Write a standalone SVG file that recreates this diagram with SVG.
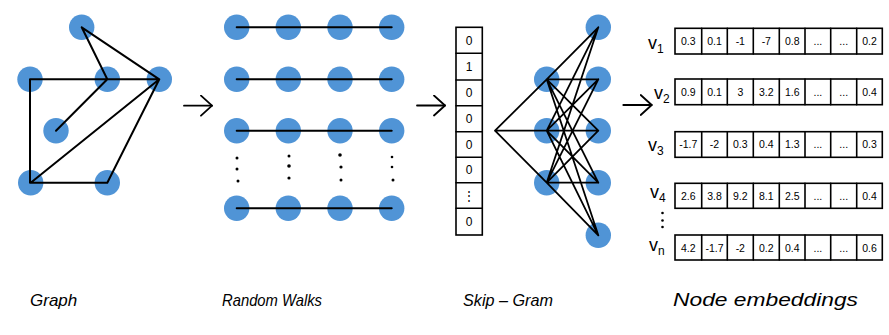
<svg xmlns="http://www.w3.org/2000/svg" width="889" height="335" viewBox="0 0 889 335">
<style>
.n{fill:#5094d6}
.e{stroke:#000;stroke-width:2;fill:none;stroke-linecap:round;stroke-linejoin:round}
.b{fill:#fff;stroke:#000;stroke-width:1.6}
.c{font-family:"Liberation Sans",Arial,sans-serif;font-size:10.5px;text-anchor:middle;fill:#000}
.v{font-family:"Liberation Sans",Arial,sans-serif;font-size:18px;fill:#000}
.lab{font-family:"Liberation Sans",Arial,sans-serif;font-style:italic;font-size:17px;fill:#000}
.d{fill:#000}
</style>
<defs>
<marker id="ah" markerWidth="14" markerHeight="22" refX="12" refY="11" orient="auto" markerUnits="userSpaceOnUse">
<path d="M1,1 L12,11 L1,21" fill="none" stroke="#000" stroke-width="1.8" stroke-linecap="round" stroke-linejoin="round"/>
</marker>
</defs>
<rect width="889" height="335" fill="#fff"/>

<!-- Graph -->
<g id="graph-nodes">
<circle class="n" cx="81.7" cy="27.3" r="12.7"/>
<circle class="n" cx="30" cy="79.3" r="12.7"/>
<circle class="n" cx="107.3" cy="79.3" r="12.7"/>
<circle class="n" cx="159.3" cy="79.3" r="12.7"/>
<circle class="n" cx="56" cy="130.7" r="12.7"/>
<circle class="n" cx="30.7" cy="182.7" r="12.7"/>
<circle class="n" cx="107.3" cy="182.7" r="12.7"/>
</g>

<!-- Random walks -->
<g id="walk-nodes">
<circle class="n" cx="236.7" cy="27.3" r="12.7"/><circle class="n" cx="288.3" cy="27.3" r="12.7"/><circle class="n" cx="340" cy="27.3" r="12.7"/><circle class="n" cx="391.7" cy="27.3" r="12.7"/>
<circle class="n" cx="236.7" cy="79.3" r="12.7"/><circle class="n" cx="288.3" cy="79.3" r="12.7"/><circle class="n" cx="340" cy="79.3" r="12.7"/><circle class="n" cx="391.7" cy="79.3" r="12.7"/>
<circle class="n" cx="236.7" cy="130.7" r="12.7"/><circle class="n" cx="288.3" cy="130.7" r="12.7"/><circle class="n" cx="340" cy="130.7" r="12.7"/><circle class="n" cx="391.7" cy="130.7" r="12.7"/>
<circle class="n" cx="236.7" cy="208.3" r="12.7"/><circle class="n" cx="288.3" cy="208.3" r="12.7"/><circle class="n" cx="340" cy="208.3" r="12.7"/><circle class="n" cx="391.7" cy="208.3" r="12.7"/>
</g>
<g id="walk-dots">
<circle class="d" cx="237" cy="158" r="1.5"/><circle class="d" cx="237" cy="169" r="1.5"/><circle class="d" cx="238" cy="181" r="1.5"/>
<circle class="d" cx="289" cy="156" r="1.5"/><circle class="d" cx="289" cy="166" r="1.8"/><circle class="d" cx="289" cy="178" r="1.6"/>
<circle class="d" cx="340" cy="155" r="1.8"/><circle class="d" cx="341" cy="167" r="1.6"/><circle class="d" cx="341" cy="180" r="1.5"/>
<circle class="d" cx="392" cy="157" r="1.3"/><circle class="d" cx="392" cy="167" r="1.3"/><circle class="d" cx="393" cy="180" r="1.5"/>
</g>

<!-- Skip-gram -->
<g id="onehot">
<rect class="b" x="456" y="27.3" width="26.3" height="207.7"/>
<path class="e" style="stroke-width:1.6" d="M456,53.3H482.3M456,80H482.3M456,105.7H482.3M456,131.7H482.3M456,157.3H482.3M456,182.7H482.3M456,208.3H482.3"/>
<g class="c" style="font-size:12px">
<text x="469" y="45">0</text>
<text x="469" y="71">1</text>
<text x="469" y="97">0</text>
<text x="469" y="123">0</text>
<text x="469" y="149">0</text>
<text x="469" y="174">0</text>
<text x="469" y="200">⋮</text>
<text x="469" y="226">0</text>
</g>
</g>
<g id="sg-nodes">
<circle class="n" cx="546.7" cy="79.3" r="12.7"/>
<circle class="n" cx="546.7" cy="130.7" r="12.7"/>
<circle class="n" cx="546.7" cy="182.7" r="12.7"/>
<circle class="n" cx="598.3" cy="27.3" r="12.7"/>
<circle class="n" cx="598.3" cy="79.3" r="12.7"/>
<circle class="n" cx="598.3" cy="130.7" r="12.7"/>
<circle class="n" cx="598.3" cy="182.7" r="12.7"/>
<circle class="n" cx="598.3" cy="235.3" r="12.7"/>
</g>

<!-- Connectors -->
<g id="connectors">
<path class="e" d="M81.7,27.3L107.3,79.3M81.7,27.3L159.3,79.3M30,79.3H159.3M30,79.3V182.7H107.3L159.3,79.3M56,130.7L107.3,79.3M30.7,182.7L159.3,79.3"/>
<path class="e" d="M236.7,27.3H391.7M236.7,79.3H391.7M236.7,130.7H391.7M236.7,208.3H391.7"/>
<path class="e" style="stroke-width:1.8" d="M495,130.7L546.7,79.3M495,130.7H546.7M495,130.7L546.7,182.7
M546.7,79.3L598.3,27.3M546.7,79.3L598.3,79.3M546.7,79.3L598.3,130.7M546.7,79.3L598.3,182.7M546.7,79.3L598.3,235.3
M546.7,130.7L598.3,27.3M546.7,130.7L598.3,79.3M546.7,130.7L598.3,130.7M546.7,130.7L598.3,182.7M546.7,130.7L598.3,235.3
M546.7,182.7L598.3,27.3M546.7,182.7L598.3,79.3M546.7,182.7L598.3,130.7M546.7,182.7L598.3,182.7M546.7,182.7L598.3,235.3"/>
<line class="e" style="stroke-width:1.8" x1="184" y1="105.7" x2="212" y2="105.7" marker-end="url(#ah)"/>
<line class="e" style="stroke-width:1.8" x1="417" y1="105.5" x2="445" y2="105.5" marker-end="url(#ah)"/>
<line class="e" style="stroke-width:1.8" x1="623.3" y1="105" x2="651.7" y2="105" marker-end="url(#ah)"/>
</g>

<!-- Embeddings -->
<g id="emb-v1">
<rect class="b" x="675" y="28.3" width="207.3" height="25.7"/>
<path class="e" style="stroke-width:1.6" d="M701.7,28.3V54M727.3,28.3V54M753.3,28.3V54M779.3,28.3V54M805,28.3V54M830.7,28.3V54M856.7,28.3V54"/>
<g class="c"><text x="688.3" y="45">0.3</text><text x="714.5" y="45">0.1</text><text x="740.3" y="45">-1</text><text x="766.3" y="45">-7</text><text x="792.2" y="45">0.8</text><text x="817.9" y="45">...</text><text x="843.7" y="45">...</text><text x="869.5" y="45">0.2</text></g>
<text class="v" x="648" y="49">v<tspan dy="4" font-size="12">1</tspan></text>
</g>
<g id="emb-v2">
<rect class="b" x="675" y="79" width="207.3" height="25.7"/>
<path class="e" style="stroke-width:1.6" d="M701.7,79V104.7M727.3,79V104.7M753.3,79V104.7M779.3,79V104.7M805,79V104.7M830.7,79V104.7M856.7,79V104.7"/>
<g class="c"><text x="688.3" y="95.5">0.9</text><text x="714.5" y="95.5">0.1</text><text x="740.3" y="95.5">3</text><text x="766.3" y="95.5">3.2</text><text x="792.2" y="95.5">1.6</text><text x="817.9" y="95.5">...</text><text x="843.7" y="95.5">...</text><text x="869.5" y="95.5">0.4</text></g>
<text class="v" x="654" y="99">v<tspan dy="4" font-size="12">2</tspan></text>
</g>
<g id="emb-v3">
<rect class="b" x="675" y="131.7" width="207.3" height="25.6"/>
<path class="e" style="stroke-width:1.6" d="M701.7,131.7V157.3M727.3,131.7V157.3M753.3,131.7V157.3M779.3,131.7V157.3M805,131.7V157.3M830.7,131.7V157.3M856.7,131.7V157.3"/>
<g class="c"><text x="688.3" y="148">-1.7</text><text x="714.5" y="148">-2</text><text x="740.3" y="148">0.3</text><text x="766.3" y="148">0.4</text><text x="792.2" y="148">1.3</text><text x="817.9" y="148">...</text><text x="843.7" y="148">...</text><text x="869.5" y="148">0.3</text></g>
<text class="v" x="648" y="151">v<tspan dy="4" font-size="12">3</tspan></text>
</g>
<g id="emb-v4">
<rect class="b" x="675" y="183.3" width="207.3" height="25"/>
<path class="e" style="stroke-width:1.6" d="M701.7,183.3V208.3M727.3,183.3V208.3M753.3,183.3V208.3M779.3,183.3V208.3M805,183.3V208.3M830.7,183.3V208.3M856.7,183.3V208.3"/>
<g class="c"><text x="688.3" y="199.5">2.6</text><text x="714.5" y="199.5">3.8</text><text x="740.3" y="199.5">9.2</text><text x="766.3" y="199.5">8.1</text><text x="792.2" y="199.5">2.5</text><text x="817.9" y="199.5">...</text><text x="843.7" y="199.5">...</text><text x="869.5" y="199.5">0.4</text></g>
<text class="v" x="650" y="198">v<tspan dy="4" font-size="12">4</tspan></text>
<circle class="d" cx="662.5" cy="213" r="1.3"/><circle class="d" cx="662.5" cy="220.5" r="1.3"/><circle class="d" cx="662.5" cy="227" r="1.3"/>
</g>
<g id="emb-vn">
<rect class="b" x="675" y="235" width="207.3" height="25"/>
<path class="e" style="stroke-width:1.6" d="M701.7,235V260M727.3,235V260M753.3,235V260M779.3,235V260M805,235V260M830.7,235V260M856.7,235V260"/>
<g class="c"><text x="688.3" y="251.5">4.2</text><text x="714.5" y="251.5">-1.7</text><text x="740.3" y="251.5">-2</text><text x="766.3" y="251.5">0.2</text><text x="792.2" y="251.5">0.4</text><text x="817.9" y="251.5">...</text><text x="843.7" y="251.5">...</text><text x="869.5" y="251.5">0.6</text></g>
<text class="v" x="649" y="251">v<tspan dy="4" font-size="12">n</tspan></text>
</g>

<!-- Captions -->
<g id="captions">
<text class="lab" x="30" y="306">Graph</text>
<text class="lab" x="222" y="306" textLength="100" lengthAdjust="spacingAndGlyphs">Random Walks</text>
<text class="lab" x="463" y="306" textLength="90" lengthAdjust="spacingAndGlyphs">Skip – Gram</text>
<text class="lab" x="673" y="306" style="font-size:19px" textLength="185" lengthAdjust="spacingAndGlyphs">Node embeddings</text>
</g>
</svg>
